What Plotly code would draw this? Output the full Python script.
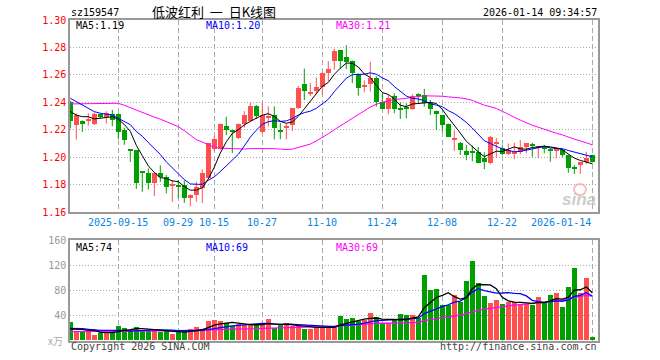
import numpy as np
import pandas as pd
import plotly.graph_objects as go

# ---------------- data ----------------
opens = [1.2400, 1.2234, 1.2265, 1.2265, 1.2240, 1.2315, 1.2290, 1.2315, 1.2315, 1.2195,
         1.2052, 1.2050, 1.1895, 1.1886, 1.1810, 1.1886, 1.1855, 1.1795, 1.1798, 1.1796,
         1.1705, 1.1725, 1.1775, 1.1850, 1.2060, 1.2060, 1.2230, 1.2195, 1.2140, 1.2240,
         1.2262, 1.2370, 1.2180, 1.2288, 1.2310, 1.2195, 1.2210, 1.2235, 1.2355, 1.2530,
         1.2465, 1.2483, 1.2508, 1.2617, 1.2702, 1.2780, 1.2727, 1.2702, 1.2607, 1.2515,
         1.2534, 1.2580, 1.2405, 1.2351, 1.2449, 1.2352, 1.2357, 1.2351, 1.2455, 1.2454,
         1.2393, 1.2339, 1.2307, 1.2241, 1.2130, 1.2100, 1.2044, 1.2035, 1.2040, 1.1995,
         1.1955, 1.2095, 1.2070, 1.2025, 1.2030, 1.2040, 1.2076, 1.2090, 1.2072, 1.2066,
         1.2054, 1.2052, 1.2052, 1.2015, 1.1920, 1.1942, 1.1966, 1.2015]
highs = [1.2410, 1.2320, 1.2268, 1.2320, 1.2325, 1.2318, 1.2335, 1.2345, 1.2320, 1.2215,
         1.2053, 1.2052, 1.1896, 1.1918, 1.1890, 1.1940, 1.1870, 1.1833, 1.1833, 1.1830,
         1.1728, 1.1820, 1.1910, 1.2105, 1.2154, 1.2245, 1.2295, 1.2196, 1.2245, 1.2335,
         1.2398, 1.2380, 1.2400, 1.2370, 1.2370, 1.2250, 1.2245, 1.2358, 1.2520, 1.2645,
         1.2540, 1.2580, 1.2618, 1.2700, 1.2790, 1.2782, 1.2815, 1.2705, 1.2610, 1.2559,
         1.2695, 1.2590, 1.2466, 1.2454, 1.2466, 1.2400, 1.2393, 1.2458, 1.2466, 1.2498,
         1.2417, 1.2340, 1.2308, 1.2245, 1.2193, 1.2112, 1.2090, 1.2085, 1.2075, 1.2035,
         1.2155, 1.2140, 1.2085, 1.2100, 1.2105, 1.2125, 1.2101, 1.2105, 1.2076, 1.2090,
         1.2064, 1.2066, 1.2064, 1.2015, 1.1942, 1.1966, 1.2039, 1.2018]
lows = [1.2210, 1.2128, 1.2185, 1.2230, 1.2235, 1.2280, 1.2245, 1.2225, 1.2130, 1.2090,
        1.1965, 1.1768, 1.1747, 1.1765, 1.1716, 1.1820, 1.1736, 1.1674, 1.1700, 1.1667,
        1.1640, 1.1675, 1.1665, 1.1845, 1.2044, 1.2055, 1.2160, 1.2030, 1.2132, 1.2215,
        1.2255, 1.2278, 1.2175, 1.2225, 1.2130, 1.2130, 1.2130, 1.2190, 1.2352, 1.2415,
        1.2445, 1.2460, 1.2455, 1.2555, 1.2637, 1.2646, 1.2641, 1.2540, 1.2449, 1.2473,
        1.2478, 1.2368, 1.2350, 1.2312, 1.2320, 1.2278, 1.2283, 1.2345, 1.2393, 1.2368,
        1.2307, 1.2198, 1.2185, 1.2149, 1.2046, 1.2015, 1.1978, 1.1970, 1.1955, 1.1912,
        1.1948, 1.2000, 1.2015, 1.2015, 1.1985, 1.2020, 1.2028, 1.2003, 1.1991, 1.2028,
        1.1966, 1.1991, 1.2000, 1.1886, 1.1877, 1.1880, 1.1950, 1.1960]
closes = [1.2260, 1.2307, 1.2240, 1.2272, 1.2315, 1.2295, 1.2320, 1.2270, 1.2180, 1.2125,
          1.2048, 1.1810, 1.1890, 1.1810, 1.1886, 1.1857, 1.1780, 1.1800, 1.1785, 1.1705,
          1.1725, 1.1785, 1.1885, 1.2105, 1.2135, 1.2240, 1.2195, 1.2190, 1.2240, 1.2310,
          1.2370, 1.2300, 1.2310, 1.2295, 1.2210, 1.2190, 1.2230, 1.2355, 1.2505, 1.2480,
          1.2478, 1.2508, 1.2617, 1.2640, 1.2776, 1.2702, 1.2695, 1.2612, 1.2502, 1.2520,
          1.2576, 1.2405, 1.2352, 1.2434, 1.2351, 1.2350, 1.2355, 1.2446, 1.2452, 1.2395,
          1.2349, 1.2312, 1.2234, 1.2149, 1.2134, 1.2049, 1.2015, 1.2033, 1.1960, 1.1962,
          1.2150, 1.2110, 1.2025, 1.2050, 1.2040, 1.2076, 1.2100, 1.2085, 1.2076, 1.2062,
          1.2050, 1.2064, 1.2015, 1.1918, 1.1918, 1.1966, 1.1991, 1.1966]
volumes = [28.5, 15.2, 14.1, 15.2, 8.8, 11.5, 13.1, 14.1, 23.2, 19.5,
           16.0, 21.6, 14.1, 16.8, 18.4, 12.5, 14.1, 10.4, 15.2, 14.1,
           18.4, 21.6, 17.9, 31.2, 32.8, 30.1, 27.5, 23.2, 25.9, 24.8,
           25.9, 25.9, 24.8, 33.9, 19.5, 24.8, 27.5, 22.1, 24.8, 18.4,
           18.4, 21.6, 22.1, 21.6, 21.6, 38.1, 34.4, 35.5, 30.1, 32.8,
           43.5, 37.6, 26.9, 26.9, 32.3, 41.9, 39.7, 39.7, 35.5, 104.8,
           80.8, 82.4, 56.8, 56.8, 72.8, 61.1, 95.2, 127.2, 90.9, 71.2,
           60.0, 64.8, 58.4, 61.6, 61.6, 57.9, 58.4, 56.8, 69.6, 59.5,
           72.8, 76.0, 52.5, 84.5, 116.0, 76.0, 98.9, 5.6]

# moving-average values before a full window exists
ma5_head = [1.2332, 1.2307, 1.2295, 1.2295]
ma10_head = [1.2429, 1.2405, 1.2380, 1.2356, 1.2332, 1.2320, 1.2312, 1.2307, 1.2283]
ma30_head = [1.2388, 1.2388, 1.2388, 1.2388, 1.2388, 1.2389, 1.2391, 1.2393, 1.2393, 1.2378,
             1.2360, 1.2342, 1.2325, 1.2308, 1.2292, 1.2277, 1.2260, 1.2242, 1.2222, 1.2193,
             1.2162, 1.2128, 1.2110, 1.2088, 1.2072, 1.2066, 1.2063, 1.2062, 1.2061]
vma5_head = [18.4, 18.4, 17.9, 16.3]
vma10_head = [19.5, 19.5, 18.9, 17.9, 16.8, 16.3, 16.3, 16.3, 15.7]
vma30_head = [14.2, 14.2, 14.3, 14.3, 14.4, 14.4, 14.5, 14.6, 14.7, 14.8,
              14.9, 15.0, 15.1, 15.2, 15.3, 15.4, 15.5, 15.6, 15.7, 15.8,
              16.0, 16.2, 16.4, 16.7, 17.0, 17.4, 17.7, 18.0, 18.4]

tick_pos = [8, 18, 24, 32, 42, 52, 62, 72, 87]
tick_labels = ["2025-09-15", "09-29", "10-15", "10-27", "11-10", "11-24", "12-08", "12-22", "2026-01-14"]
price_ticks = [1.16, 1.18, 1.20, 1.22, 1.24, 1.26, 1.28, 1.30]
vol_ticks = [40, 80, 120, 160]
price_legend = ["MA5:1.19", "MA10:1.20", "MA30:1.21"]
vol_legend = ["MA5:74", "MA10:69", "MA30:69"]
code = "sz159547"
title = "低波红利&nbsp;&nbsp;一&nbsp;&nbsp;日K线图"
stamp = "2026-01-14 09:34:57"

# ---------------- derived ----------------
n = len(closes)
idx = np.arange(n)
o, h, l, c = map(np.array, (opens, highs, lows, closes))
v = np.array(volumes)
up = c >= o

def ma(series, w, head):
    s = pd.Series(series).rolling(w).mean().to_numpy()
    s[:w - 1] = head
    return s

ma5, ma10, ma30 = ma(c, 5, ma5_head), ma(c, 10, ma10_head), ma(c, 30, ma30_head)
vma5, vma10, vma30 = ma(v, 5, vma5_head), ma(v, 10, vma10_head), ma(v, 30, vma30_head)

RED, GREEN = "#ff5050", "#009f00"
colors = [RED if u else GREEN for u in up]

W, H = 660, 360
XL, XR = 70, 598
def px(xp):
    return (xp - XL) / (XR - XL)
def py(yp):
    return (H - yp) / H

fig = go.Figure()

# wicks
for mask, col in ((up, RED), (~up, GREEN)):
    xs, ys = [], []
    for i in idx[mask]:
        xs += [i, i, None]
        ys += [l[i], h[i], None]
    fig.add_trace(go.Scatter(x=xs, y=ys, mode="lines", line=dict(color=col, width=1),
                             xaxis="x", yaxis="y", hoverinfo="skip"))

# bodies
body_h = np.maximum(np.abs(c - o), 0.0008)
body_b = np.minimum(o, c)
fig.add_trace(go.Bar(x=idx, y=body_h, base=body_b, width=0.82,
                     marker=dict(color=colors, line=dict(width=0)),
                     xaxis="x", yaxis="y"))

for s, col in ((ma30, "#ff00ff"), (ma10, "#0000ff"), (ma5, "#000000")):
    fig.add_trace(go.Scatter(x=idx, y=s, mode="lines", line=dict(color=col, width=1),
                             xaxis="x", yaxis="y"))

# volume
fig.add_trace(go.Bar(x=idx, y=v, width=0.82, marker=dict(color=colors, line=dict(width=0)),
                     xaxis="x2", yaxis="y2"))
for s, col in ((vma30, "#ff00ff"), (vma10, "#0000ff"), (vma5, "#000000")):
    fig.add_trace(go.Scatter(x=idx, y=s, mode="lines", line=dict(color=col, width=1.3),
                             xaxis="x2", yaxis="y2"))

MONO = "DejaVu Sans Mono"
GRID = "#aaaaaa"
FRAME = "#999999"
xcommon = dict(range=[-0.05, 87.95], tickvals=tick_pos, showticklabels=False, ticks="",
               showgrid=True, gridcolor=GRID, griddash="5px,3px", gridwidth=1,
               showline=True, mirror=True, linecolor=FRAME, linewidth=1.5,
               zeroline=False, automargin=False, fixedrange=True)

fig.update_layout(
    width=W, height=H, margin=dict(l=XL, r=W - XR, t=0, b=0, pad=0),
    paper_bgcolor="white", plot_bgcolor="white", showlegend=False,
    barmode="overlay", bargap=0,
    xaxis=dict(domain=[0, 1], anchor="y", **xcommon),
    xaxis2=dict(domain=[0, 1], anchor="y2", matches="x", **xcommon),
    yaxis=dict(domain=[py(212), py(20)], range=[1.16, 1.30], tickvals=price_ticks,
               ticktext=[f"{t:.2f}" for t in price_ticks],
               tickfont=dict(family=MONO, size=10, color="#ff0000"), ticks="",
               showgrid=True, gridcolor=GRID, griddash="1px,2px", gridwidth=1,
               showline=True, mirror=True, linecolor=FRAME, linewidth=1.5,
               zeroline=False, automargin=False),
    yaxis2=dict(domain=[py(340.5), py(240.3)], range=[0, 160], tickvals=vol_ticks,
                tickfont=dict(family=MONO, size=10, color="#999999"), ticks="",
                showgrid=True, gridcolor=GRID, griddash="1px,2px", gridwidth=1,
                showline=True, mirror=True, linecolor=FRAME, linewidth=1.5,
                zeroline=False, automargin=False),
)

ann = []
def text(x, y, s, color="#000", size=10, anchor="left", family=MONO, **kw):
    ann.append(dict(x=px(x), y=py(y), xref="paper", yref="paper", text=s, showarrow=False,
                    xanchor=anchor, yanchor="middle", font=dict(family=family, size=size, color=color),
                    borderpad=0, **kw))

for pos, lab in zip(tick_pos, tick_labels):
    ann.append(dict(x=pos, y=py(222), xref="x", yref="paper", text=lab, showarrow=False,
                    xanchor="right" if pos == tick_pos[-1] else "center", yanchor="middle",
                    font=dict(family=MONO, size=10, color="#0a84e0"), borderpad=0))

text(70, 13, code)
text(214, 12, title, size=13, anchor="center", family="Noto Sans CJK SC")
text(598, 13, stamp, anchor="right")
for x0, s, col in zip((75, 205, 335), price_legend, ("#000000", "#0000ff", "#ff00ff")):
    text(x0, 26, s, color=col)
for x0, s, col in zip((75, 205, 335), vol_legend, ("#000000", "#0000ff", "#ff00ff")):
    text(x0, 247, s, color=col)
text(64, 340, "x万", color="#aaaaaa", anchor="right", family="Noto Sans CJK SC")
text(70, 346, "Copyright 2026 SINA.COM", color="#444444")
text(598, 346, "http://finance.sina.com.cn", color="#444444", anchor="right")
text(597, 199, "<b><i>sina</i></b>", color="rgba(190,190,190,0.8)", size=17, anchor="right",
     family="Liberation Sans")
fig.update_layout(annotations=ann)
fig.add_shape(type="circle", xref="paper", yref="paper",
              x0=px(574), x1=px(586), y0=py(195), y1=py(184),
              line=dict(color="rgba(235,150,150,0.6)", width=2))

fig.write_html("out.html")
